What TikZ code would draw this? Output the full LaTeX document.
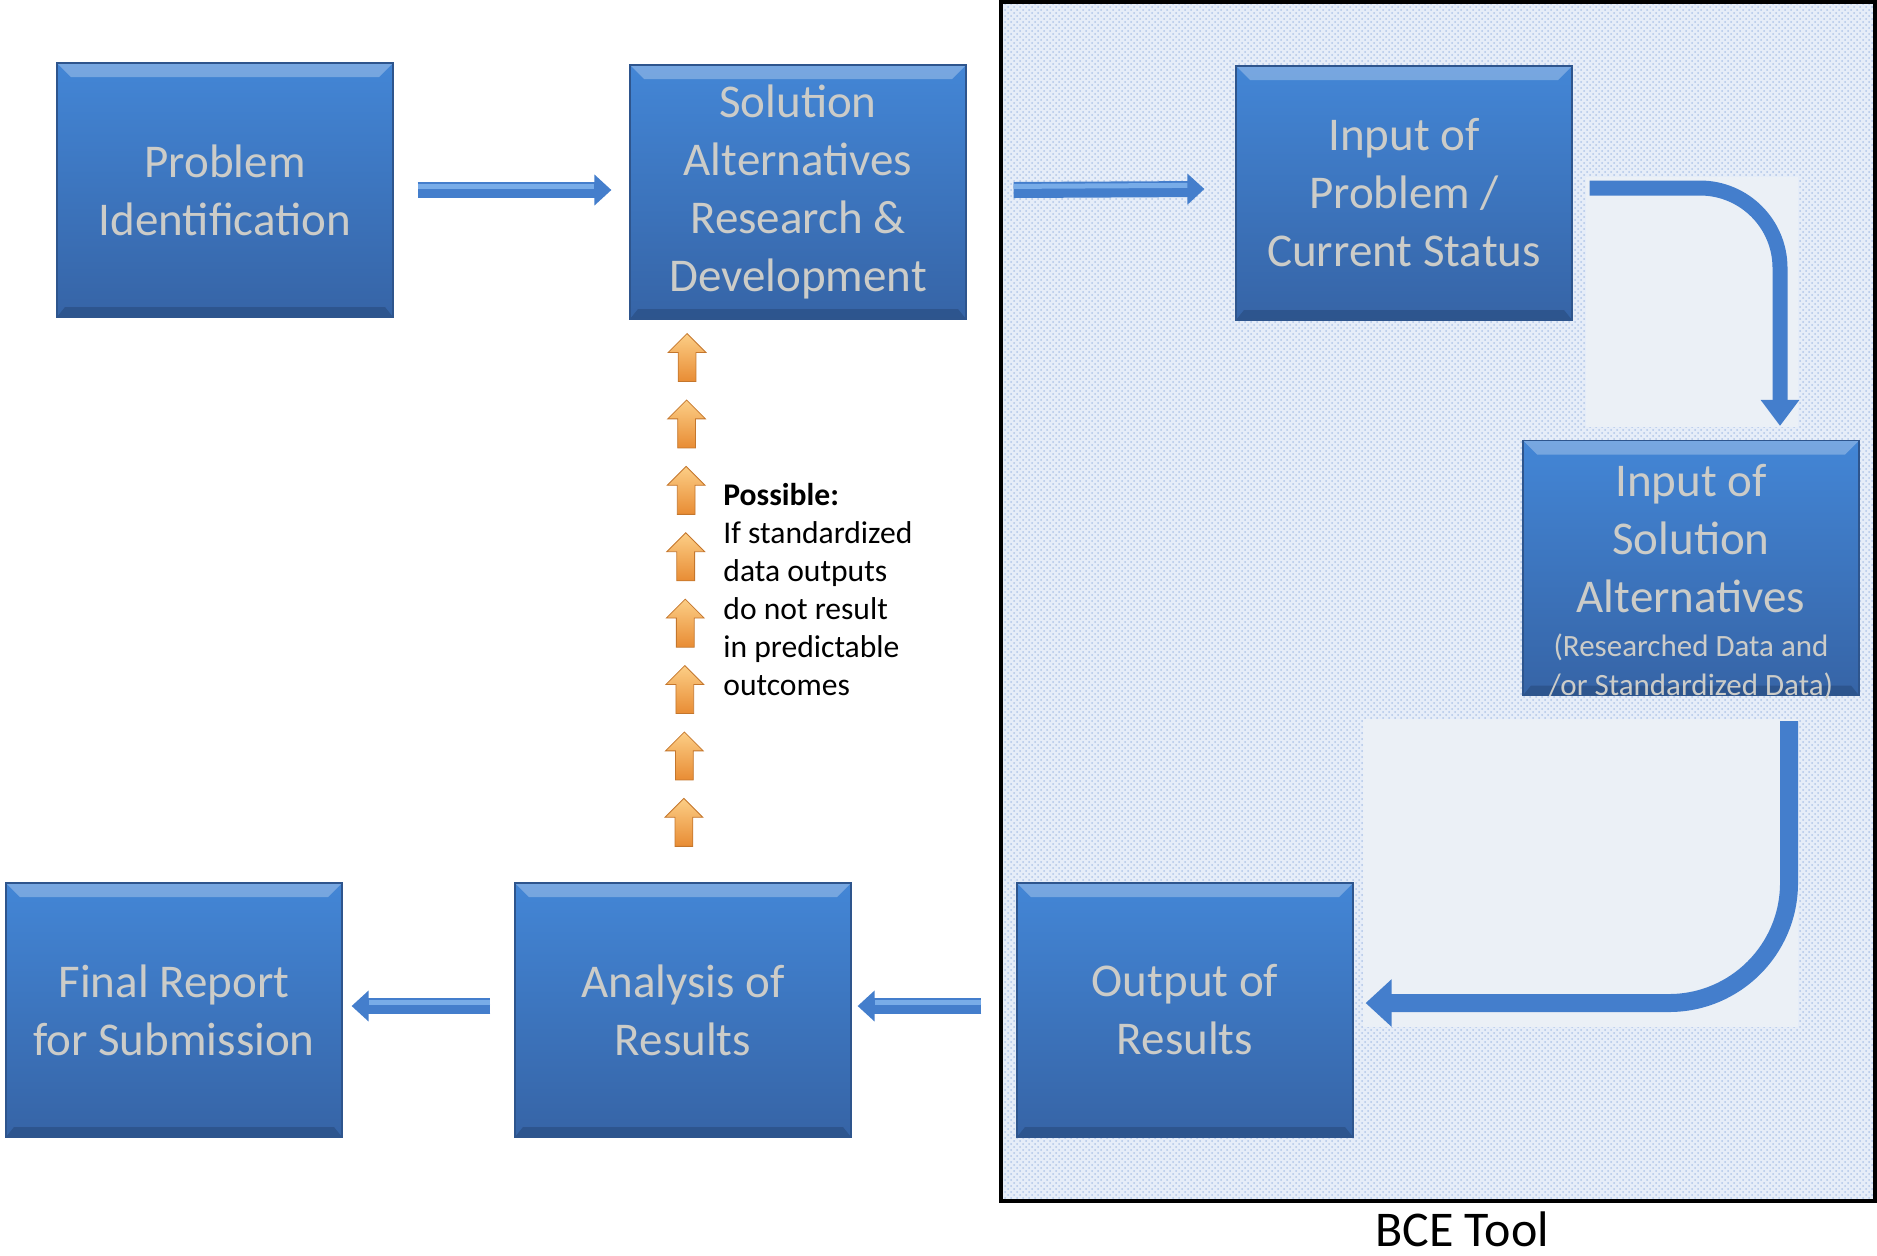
\documentclass[tikz,border=0pt]{standalone}
\usepackage{fontspec}
\setmainfont{Carlito}
\usetikzlibrary{arrows.meta,shapes.arrows,patterns}

\definecolor{boiteHaut}{RGB}{67,134,214}
\definecolor{boiteBas}{RGB}{54,100,166}
\definecolor{texteBoite}{RGB}{204,204,200}
\definecolor{flecheBleue}{RGB}{68,126,204}
\definecolor{flecheClaire}{RGB}{120,172,232}
\definecolor{fondOutil}{RGB}{230,237,248}
\definecolor{pointsOutil}{RGB}{176,198,232}
\definecolor{fondCourbe}{RGB}{235,240,246}
\definecolor{orangeClair}{RGB}{252,206,134}
\definecolor{orangeFonce}{RGB}{232,140,52}
\definecolor{bordOrange}{RGB}{196,118,44}

\begin{document}
\begin{tikzpicture}[
    x=0.5pt, y=-0.5pt, % un pixel = 0.5pt, y vers le bas
    % Les boites bleues
    boite/.style={rectangle, minimum width=168pt, minimum height=127pt,
        top color=boiteHaut, bottom color=boiteBas, draw=boiteBas!85!black, line width=0.6pt,
        text=texteBoite, font=\fontsize{23.5}{29}\selectfont, align=center, inner sep=0pt,
        path picture={
            \fill[white, opacity=0.28] (path picture bounding box.north west)
                -- (path picture bounding box.north east)
                -- ([xshift=-7pt,yshift=-7pt]path picture bounding box.north east)
                -- ([xshift=7pt,yshift=-7pt]path picture bounding box.north west) -- cycle;
            \fill[black, opacity=0.15] (path picture bounding box.south west)
                -- (path picture bounding box.south east)
                -- ([xshift=-4pt,yshift=5pt]path picture bounding box.south east)
                -- ([xshift=4pt,yshift=5pt]path picture bounding box.south west) -- cycle;
        }},
    fleche/.style={line width=8pt, draw=flecheBleue, -{Triangle[width=15pt,length=8.5pt]}},
    reflet/.style={line width=2.5pt, draw=flecheClaire},
    courbe/.style={line width=7.5pt, draw=flecheBleue, -{Triangle[width=18.5pt,length=13pt]}},
    % Petites fleches orange
    monte/.style={single arrow, rotate=90, minimum height=24pt, inner sep=0pt,
        text height=8.5pt, text depth=0pt, single arrow head extend=5pt,
        top color=orangeClair, bottom color=orangeFonce, draw=bordOrange, line width=0.4pt},
    note/.style={font=\fontsize{15.8}{19}\selectfont, align=left, inner sep=0pt, anchor=west}
]
\useasboundingbox (0,0) rectangle (1877,1255);

% Cadre de l'outil BCE
\fill[fondOutil] (1001,2) rectangle (1875,1201);
\fill[pattern=crosshatch dots, pattern color=pointsOutil] (1001,2) rectangle (1875,1201);
\fill[fondCourbe] (1586,177) rectangle (1798,427);
\fill[fondCourbe] (1363,719) rectangle (1798,1027);

% Boites
\node[boite] (pi) at (225,190) {Problem\\Identification};
\node[boite] (sard) at (798,192) {Solution\\Alternatives\\Research \&\\Development};
\node[boite] (iprob) at (1404,193) {Input of\\Problem /\\Current Status};
\node[boite] (isol) at (1691,568) {\rule{0pt}{28pt}Input of\\Solution\\Alternatives\\[-7pt]
    {\fontsize{15.5}{19.5}\selectfont (Researched Data and}\\[-9.5pt]
    \raisebox{0pt}[\height][0pt]{\fontsize{15.5}{19.5}\selectfont /or Standardized Data)}};
\node[boite] (osr) at (1185,1010) {Output of\\Results};
\node[boite] (ana) at (683,1010) {Analysis of\\Results};
\node[boite] (fin) at (174,1010) {Final Report\\for Submission};

% Fleches droites
\draw[fleche] ([xshift=12pt]pi.east) -- ([xshift=-9pt,yshift=1pt]sard.west);
\draw[reflet] ([xshift=12pt,yshift=1.8pt]pi.east) -- ([xshift=-17.5pt,yshift=2.8pt]sard.west);
\draw[fleche] ([xshift=23.5pt,yshift=1pt]sard.east) -- ([xshift=-15.5pt,yshift=2pt]iprob.west);
\draw[reflet] ([xshift=23.5pt,yshift=2.8pt]sard.east) -- ([xshift=-24pt,yshift=3.8pt]iprob.west);
\draw[fleche] ([xshift=-17.5pt,yshift=2pt]osr.west) -- ([xshift=3pt,yshift=2pt]ana.east);
\draw[reflet] ([xshift=-17.5pt,yshift=3.8pt]osr.west) -- ([xshift=11.5pt,yshift=3.8pt]ana.east);
\draw[fleche] ([xshift=-12pt,yshift=2pt]ana.west) -- ([xshift=4.5pt,yshift=2pt]fin.east);
\draw[reflet] ([xshift=-12pt,yshift=3.8pt]ana.west) -- ([xshift=13pt,yshift=3.8pt]fin.east);

% Fleches courbes
\coordinate (d1) at ([xshift=8.5pt,yshift=2.5pt]iprob.east);
\coordinate (f1) at ([xshift=44.5pt,yshift=7pt]isol.north);
\draw[courbe, rounded corners=40pt] (d1) -| (f1);
\coordinate (d2) at ([xshift=49pt,yshift=-12.5pt]isol.south);
\coordinate (f2) at ([xshift=6pt,yshift=3.5pt]osr.east);
\draw[courbe, line width=9pt, -{Triangle[width=23pt,length=13pt]}, rounded corners=60pt] (d2) |- (f2);

% Retour possible
\foreach \i in {1,...,8}
    \node[monte] (up\i) at ({687.5-0.45*\i},{295.6+66.4*\i}) {};
\node[note] (possible) at (723,590) {\textbf{Possible:}\\If standardized\\data outputs\\do not result\\in predictable\\outcomes};

\draw[line width=2pt] (1001,2) rectangle (1875,1201);
\node[font=\fontsize{25}{30}\selectfont, anchor=base, inner sep=0pt] (bce) at (1462,1246) {BCE Tool};
\end{tikzpicture}
\end{document}
